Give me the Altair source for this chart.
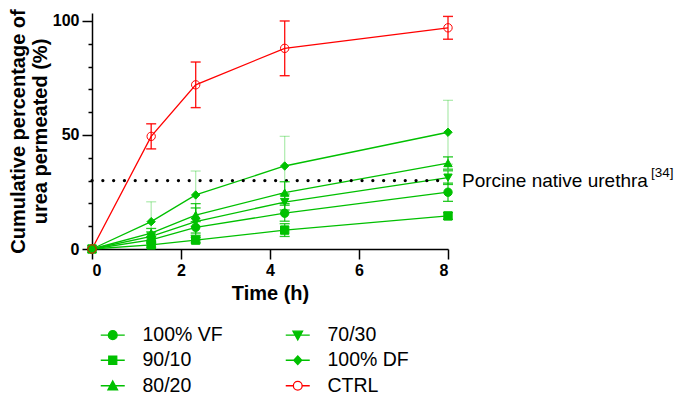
import altair as alt
import pandas as pd

# ---------------- data ----------------
time_h = [0, 1.33, 2.33, 4.33, 8]

series_names = ["100% VF", "90/10", "80/20", "70/30", "100% DF", "CTRL"]

vf_mean = [0, 4.0, 9.5, 15.7, 24.9]
vf_err = [0, 1.5, 2.5, 3.5, 4.0]

r9010_mean = [0, 1.8, 3.9, 8.3, 14.5]
r9010_err = [0, 1.0, 1.2, 2.8, 1.5]

r8020_mean = [0, 7.0, 14.9, 24.7, 37.7]
r8020_err = [0, 2.0, 5.0, 4.8, 2.7]

r7030_mean = [0, 5.5, 12.0, 20.6, 31.3]
r7030_err = [0, 2.0, 6.0, 3.5, 3.0]

df_mean = [0, 12.0, 23.7, 36.4, 51.2]
df_err = [0, 8.7, 10.5, 13.0, 14.0]

ctrl_mean = [0, 49.4, 72.0, 88.0, 97.0]
ctrl_err = [0, 5.5, 10.0, 12.0, 5.0]

ref_value = 30
ref_label = "Porcine native urethra"
ref_sup = "[34]"

x_ticks = [0, 2, 4, 6, 8]
y_ticks = [0, 10, 20, 30, 40, 50, 60, 70, 80, 90, 100]

# ---------------- build tables ----------------
means = [vf_mean, r9010_mean, r8020_mean, r7030_mean, df_mean, ctrl_mean]
errs = [vf_err, r9010_err, r8020_err, r7030_err, df_err, ctrl_err]
rows = []
for name, m, e in zip(series_names, means, errs):
    for t, v, s in zip(time_h, m, e):
        rows.append({"series": name, "time": t, "value": v, "lo": v - s, "hi": v + s, "err": s})
data = pd.DataFrame(rows)
err_data = data[data["err"] > 0]

ref_df = pd.DataFrame({"time": [time_h[0]], "time2": [time_h[-1]], "value": [ref_value]})
txt_df = pd.DataFrame({"time": [time_h[-1]], "value": [ref_value], "label": [ref_label], "sup": [ref_sup]})

GREEN = "#00C000"
RED = "#FF0000"
FONT = "Liberation Sans"

legend_order = series_names
stroke_range = [GREEN, GREEN, GREEN, GREEN, GREEN, RED]
fill_range = [GREEN, GREEN, GREEN, GREEN, GREEN, "transparent"]
shape_range = ["circle", "square", "triangle-up", "triangle-down", "diamond", "circle"]
size_range = [70, 70, 70, 70, 45, 110]
sw_range = [1, 1, 1, 1, 1, 2.5]

LINE = "M-1.5,0H1.5"
path_range = [
    LINE + "M0.55,0A0.55,0.55,0,1,1,-0.55,0A0.55,0.55,0,1,1,0.55,0Z",
    LINE + "M-0.5,-0.5H0.5V0.5H-0.5Z",
    LINE + "M0,-0.6L0.6,0.5L-0.6,0.5Z",
    LINE + "M0,0.6L0.6,-0.5L-0.6,-0.5Z",
    LINE + "M0,-0.55L0.5,0L0,0.55L-0.5,0Z",
    "M-1.5,0H-0.55M0.55,0H1.5M0.55,0A0.55,0.55,0,1,1,-0.55,0A0.55,0.55,0,1,1,0.55,0Z",
]

X_SCALE = alt.Scale(domain=[0, 8], nice=False, padding=0)
Y_SCALE = alt.Scale(domain=[0, 103.5], nice=False, padding=0)
X_AXIS = alt.Axis(values=x_ticks, title="Time (h)", tickSize=10,
                  labelPadding=3, titlePadding=5, format="d")
Y_AXIS = alt.Axis(values=y_ticks, labelOverlap=False,
                  labelExpr="datum.value % 50 === 0 ? datum.label : ''",
                  tickSize={"condition": {"test": "datum.value % 50 === 0", "value": 10}, "value": 4},
                  title=["Cumulative percentage of", "urea permeated (%)"],
                  titleLineHeight=22, labelPadding=3, titlePadding=2)


def xq(field):
    return alt.X(field, type="quantitative", scale=X_SCALE, axis=X_AXIS)


def yq(field):
    return alt.Y(field, type="quantitative", scale=Y_SCALE, axis=Y_AXIS)


base = alt.Chart(data)

lines = base.mark_line(strokeWidth=1.3).encode(
    x=xq("time"), y=yq("value"),
    stroke=alt.Stroke("series:N", scale=alt.Scale(domain=legend_order, range=stroke_range), legend=None),
    detail="series:N",
)

ref_line = alt.Chart(ref_df).mark_rule(
    color="black", strokeWidth=3.2, strokeDash=[0.1, 10.7], strokeCap="round"
).encode(x=xq("time"), x2="time2:Q", y=yq("value"))

eb = alt.Chart(err_data)
opac = alt.condition("datum.series == '100% DF'", alt.value(0.3), alt.value(0.85))
g_rule = eb.transform_filter("datum.series != 'CTRL'").mark_rule(color=GREEN, strokeWidth=1.3).encode(
    x=xq("time"), y=yq("lo"), y2="hi:Q", opacity=opac)
g_lo = eb.transform_filter("datum.series != 'CTRL'").mark_tick(
    color=GREEN, orient="horizontal", size=10, thickness=1.3).encode(x=xq("time"), y=yq("lo"), opacity=opac)
g_hi = eb.transform_filter("datum.series != 'CTRL'").mark_tick(
    color=GREEN, orient="horizontal", size=10, thickness=1.3).encode(x=xq("time"), y=yq("hi"), opacity=opac)
r_rule = eb.transform_filter("datum.series == 'CTRL'").mark_rule(color=RED, strokeWidth=1.4, opacity=0.9).encode(
    x=xq("time"), y=yq("lo"), y2="hi:Q")
r_lo = eb.transform_filter("datum.series == 'CTRL'").mark_tick(
    color=RED, orient="horizontal", size=10, thickness=1.4, opacity=0.9).encode(x=xq("time"), y=yq("lo"))
r_hi = eb.transform_filter("datum.series == 'CTRL'").mark_tick(
    color=RED, orient="horizontal", size=10, thickness=1.4, opacity=0.9).encode(x=xq("time"), y=yq("hi"))

points = base.mark_point(filled=True, opacity=1).encode(
    x=xq("time"), y=yq("value"),
    shape=alt.Shape("series:N", scale=alt.Scale(domain=legend_order, range=shape_range), legend=None),
    fill=alt.Fill("series:N", scale=alt.Scale(domain=legend_order, range=fill_range), legend=None),
    stroke=alt.Stroke("series:N", scale=alt.Scale(domain=legend_order, range=stroke_range), legend=None),
    size=alt.Size("series:N", scale=alt.Scale(domain=legend_order, range=size_range), legend=None),
    strokeWidth=alt.StrokeWidth("series:N", scale=alt.Scale(domain=legend_order, range=sw_range), legend=None),
)

leg = alt.Legend(title=None, orient="none", legendX=11, legendY=312, columns=2,
                 columnPadding=60, rowPadding=4.5, symbolSize=256, symbolStrokeWidth=1.3,
                 labelFontSize=19.5, labelFont=FONT, labelColor="black", labelOffset=20,
                 padding=0, symbolOpacity=1)

legend_layer = base.transform_filter("false").mark_point(filled=True, opacity=1, strokeWidth=1.3).encode(
    x=xq("time"), y=yq("value"),
    shape=alt.Shape("series:N", scale=alt.Scale(domain=legend_order, range=path_range), legend=leg),
    fill=alt.Fill("series:N", scale=alt.Scale(domain=legend_order, range=fill_range), legend=leg),
    stroke=alt.Stroke("series:N", scale=alt.Scale(domain=legend_order, range=stroke_range), legend=leg),
)

txt = alt.Chart(txt_df).mark_text(align="left", baseline="middle", dx=14, fontSize=19,
                                  font=FONT, color="black").encode(x=xq("time"), y=yq("value"), text="label:N")
sup = alt.Chart(txt_df).mark_text(align="left", baseline="middle", dx=203, dy=-8, fontSize=13.5,
                                  font=FONT, color="black").encode(x=xq("time"), y=yq("value"), text="sup:N")

chart = alt.layer(
    lines, ref_line, g_rule, g_lo, g_hi, r_rule, r_lo, r_hi, points, legend_layer, txt, sup
).resolve_scale(
    shape="independent", fill="independent", stroke="independent"
).properties(
    width=356, height=236,
    padding={"left": 84, "top": 5, "right": 229, "bottom": 146},
    autosize=alt.AutoSizeParams(type="none"),
).configure_view(stroke=None).configure_axis(
    grid=False, domainColor="black", domainWidth=1.5, tickColor="black", tickWidth=1.5,
    labelFont=FONT, labelFontWeight="bold", labelFontSize=16, labelColor="black",
    titleFont=FONT, titleFontWeight="bold", titleFontSize=20, titleColor="black",
)

chart.save("out.html", embed_options={"renderer": "svg", "actions": False})
